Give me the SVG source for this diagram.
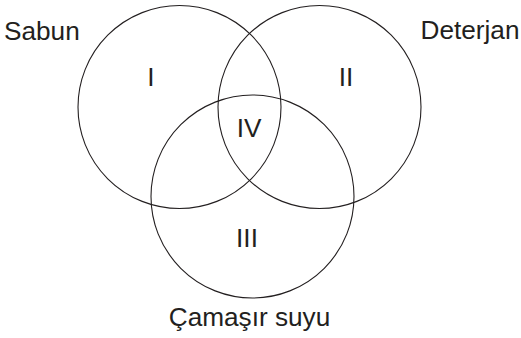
<svg xmlns="http://www.w3.org/2000/svg" width="521" height="338" viewBox="0 0 521 338">
<style>
.c{fill:none;stroke:#231f20;stroke-width:1.1}
.t{font-family:"Liberation Sans",Arial,sans-serif;font-size:26.2px;fill:#231f20}
.m{text-anchor:middle}
</style>
<rect width="521" height="338" fill="#fff"/>
<g id="sabun"><circle class="c" cx="179.5" cy="107" r="101.5"/><text class="t" x="4" y="39.5">Sabun</text></g>
<g id="deterjan"><circle class="c" cx="319.5" cy="107" r="101.5"/><text class="t" x="420.5" y="38.5">Deterjan</text></g>
<g id="camasir"><circle class="c" cx="252.5" cy="196.5" r="101.5"/><text class="t m" x="249.5" y="325.5">Çamaşır suyu</text></g>
<g id="regions">
<text class="t m" x="151" y="86">I</text>
<text class="t m" x="346" y="86">II</text>
<text class="t m" x="249" y="137">IV</text>
<text class="t m" x="247" y="247">III</text>
</g>
<g id="connectors"/>
</svg>
